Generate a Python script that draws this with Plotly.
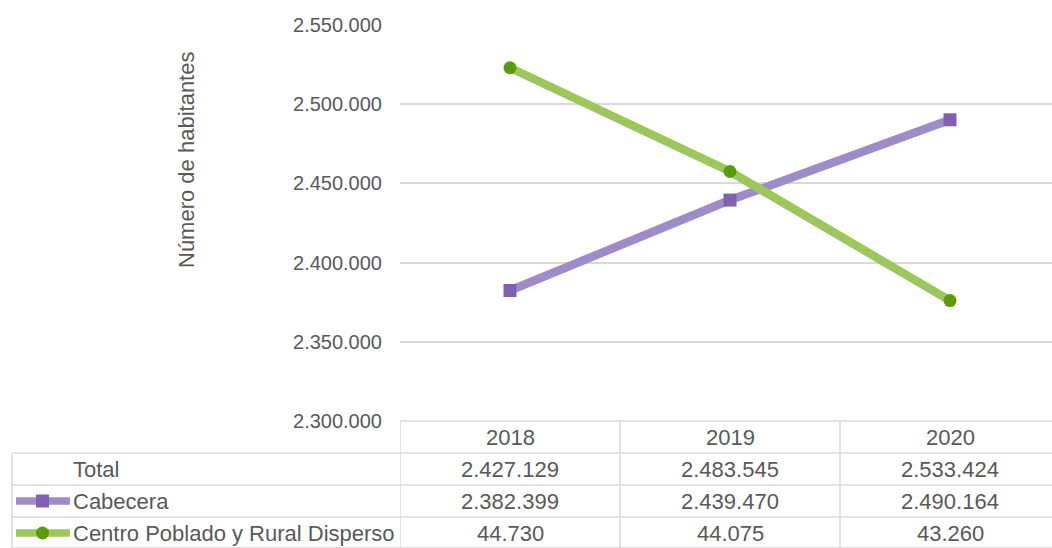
import plotly.graph_objects as go

years = ["2018", "2019", "2020"]
total = [2427129, 2483545, 2533424]
cabecera = [2382399, 2439470, 2490164]
centro = [44730, 44075, 43260]
row_names = ["Total", "Cabecera", "Centro Poblado y Rural Disperso"]

W, H = 1052, 548
GRAY = "#595959"
GRID = "#d9d9d9"
PURPLE_LINE, PURPLE_MARK = "#a08bc9", "#7f60b2"
GREEN_LINE, GREEN_MARK = "#9dc65c", "#5c9a0e"
FONT = "Liberation Sans, Arial"


def px(x):
    return x / W


def py(y):
    return 1 - y / H


def fmt(v):
    return f"{v:,}".replace(",", ".")


fig = go.Figure()
fig.add_trace(go.Scatter(
    x=years, y=cabecera, mode="lines+markers", name="Cabecera",
    line=dict(color=PURPLE_LINE, width=8.5),
    marker=dict(symbol="square", size=13, color=PURPLE_MARK),
))
fig.add_trace(go.Scatter(
    x=years, y=centro, mode="lines+markers", name="Centro Poblado y Rural Disperso",
    yaxis="y2",
    line=dict(color=GREEN_LINE, width=8.5),
    marker=dict(symbol="circle", size=13, color=GREEN_MARK),
))

# table geometry
top, rows = 421, [453, 485, 517, 548]
left, split = 12, 400
shapes = []
shapes.append(dict(type="line", xref="paper", yref="paper", x0=px(split), x1=1,
                   y0=py(top), y1=py(top), line=dict(color=GRID, width=1.5)))
for r in rows:
    shapes.append(dict(type="line", xref="paper", yref="paper", x0=px(left), x1=1,
                       y0=py(r), y1=py(r), line=dict(color=GRID, width=1.5)))
shapes.append(dict(type="line", xref="paper", yref="paper", x0=px(left), x1=px(left),
                   y0=py(rows[0]), y1=0, line=dict(color=GRID, width=1.5)))
for i in range(len(years)):
    shapes.append(dict(type="line", xref="x", yref="paper", x0=i - 0.5, x1=i - 0.5,
                       y0=py(top), y1=0, line=dict(color=GRID, width=1.5)))

# legend keys in table
key_rows = [(501, PURPLE_LINE, PURPLE_MARK, "rect"), (533, GREEN_LINE, GREEN_MARK, "circle")]
for yk, lc, mc, kind in key_rows:
    shapes.append(dict(type="line", xref="paper", yref="paper", x0=px(16), x1=px(70),
                       y0=py(yk), y1=py(yk), line=dict(color=lc, width=7.5)))
    shapes.append(dict(type=kind, xref="paper", yref="paper", x0=px(36), x1=px(49),
                       y0=py(yk - 6.5), y1=py(yk + 6.5), fillcolor=mc,
                       line=dict(color=mc, width=0)))

annotations = []
tfont = dict(family=FONT, size=22, color=GRAY)
for i, yr in enumerate(years):
    annotations.append(dict(x=i, y=py(437), xref="x", yref="paper", text=yr,
                            xanchor="center", yanchor="middle",
                            showarrow=False, font=tfont))
row_centers = [469, 501, 533]
for vals, yc in zip([total, cabecera, centro], row_centers):
    for i, v in enumerate(vals):
        annotations.append(dict(x=i, y=py(yc), xref="x", yref="paper", text=fmt(v),
                                xanchor="center", yanchor="middle",
                                showarrow=False, font=tfont))
for name, yc in zip(row_names, row_centers):
    annotations.append(dict(x=px(71), y=py(yc), xref="paper", yref="paper", text=name,
                            xanchor="left", yanchor="middle", showarrow=False, font=tfont))
annotations.append(dict(x=px(186), y=py(160), xref="paper", yref="paper",
                        text="Número de habitantes", textangle=-90,
                        xanchor="center", yanchor="middle", showarrow=False,
                        font=dict(family=FONT, size=22, color=GRAY)))

fig.update_layout(
    width=W, height=H,
    margin=dict(l=0, r=0, t=0, b=0, pad=0, autoexpand=False),
    plot_bgcolor="white", paper_bgcolor="white",
    showlegend=False,
    separators=",.",
    font=dict(family=FONT, color=GRAY),
    xaxis=dict(domain=[px(split), 1], type="category", range=[-0.5, 2.5 - 8 / 220],
               showticklabels=False, showgrid=False, zeroline=False, showline=False,
               automargin=False),
    yaxis=dict(domain=[py(top), py(25)], range=[2300000, 2550000], dtick=50000,
               tickformat=",d", showgrid=True, gridcolor=GRID, gridwidth=1.5,
               zeroline=False, showline=False, ticks="", ticklabelstandoff=17,
               tickfont=dict(size=20, color=GRAY), automargin=False),
    yaxis2=dict(overlaying="y", range=[42500, 45000], visible=False),
    shapes=shapes,
    annotations=annotations,
)

fig.write_html("out.html", config={"displayModeBar": False},
               post_script="document.body.style.margin='0';")
